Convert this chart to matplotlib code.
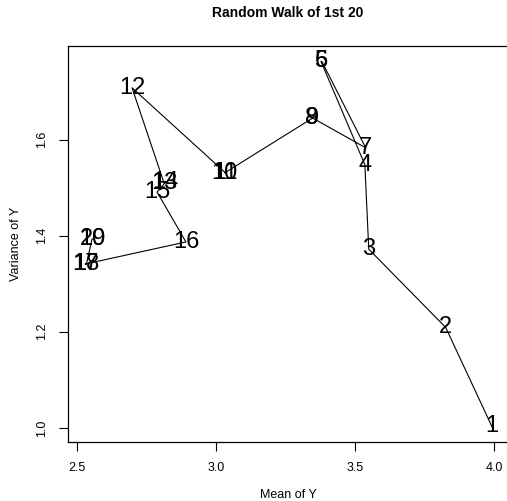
"""Random walk of the first 20 (mean, variance) pairs."""

import matplotlib
matplotlib.use("Agg")
import matplotlib.pyplot as plt

plt.rcParams['font.family'] = ['Liberation Sans', 'DejaVu Sans']

# step labels and their (mean, variance)
steps = [str(i) for i in range(1, 21)]
mean_y = [3.992, 3.826, 3.549, 3.535, 3.377, 3.380, 3.538, 3.344, 3.347, 3.031,
          3.035, 2.697, 2.812, 2.817, 2.787, 2.891, 2.528, 2.533, 2.553, 2.558]
var_y = [1.003, 1.209, 1.372, 1.548, 1.763, 1.763, 1.583, 1.646, 1.645, 1.531,
         1.530, 1.708, 1.510, 1.511, 1.491, 1.387, 1.341, 1.341, 1.393, 1.393]

x_ticks = [2.5, 3.0, 3.5, 4.0]
y_ticks = [1.0, 1.2, 1.4, 1.6]

fig = plt.figure(figsize=(5.07, 5.01), dpi=100)
ax = fig.add_axes([68 / 507, 59 / 501, 440.5 / 507, 396 / 501])

ax.plot(mean_y, var_y, color='black', lw=0.8)
for lab, x, y in zip(steps, mean_y, var_y):
    ax.text(x, y, lab, fontsize=17, ha='center', va='center', color='black')

ax.set_xlim(2.4665, 4.052)
ax.set_ylim(0.9705, 1.795)
ax.set_xticks(x_ticks)
ax.set_xticklabels([f"{v:.1f}" for v in x_ticks])
ax.set_yticks(y_ticks)
ax.set_yticklabels([f"{v:.1f}" for v in y_ticks], rotation=90, va='center')
ax.tick_params(length=6.5, width=0.8, labelsize=9, pad=8)
for s in ax.spines.values():
    s.set_linewidth(0.9)

ax.set_xlabel('Mean of Y', fontsize=9, labelpad=11)
ax.set_ylabel('Variance of Y', fontsize=9, labelpad=10)
fig.text(288 / 507, 1 - 13 / 501, 'Random Walk of 1st 20', fontsize=10,
         fontweight='bold', ha='center', va='center')

fig.savefig('out.png', dpi=100)
